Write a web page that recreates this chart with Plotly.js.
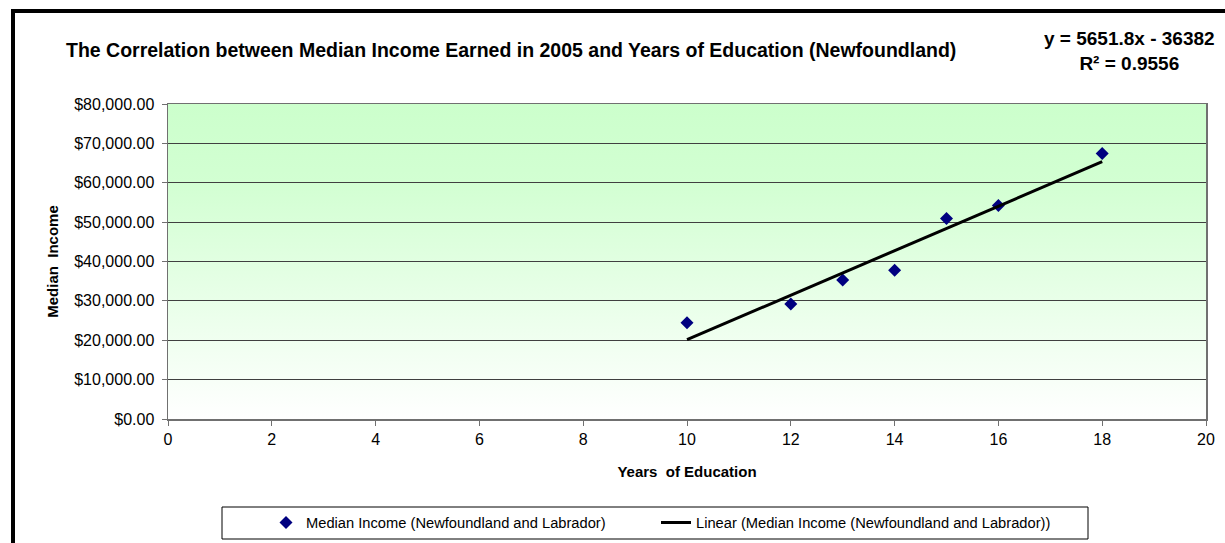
<!DOCTYPE html>
<html><head><meta charset="utf-8">
<script src="https://cdn.plot.ly/plotly-3.0.1.min.js"></script>
<style>html,body{margin:0;padding:0;background:#fff;overflow:hidden}#chart{width:1225px;height:543px}</style>
</head><body><div id="chart"></div>
<script>
// ---- data ----
const years = [10, 12, 13, 14, 15, 16, 18];
const medianIncome = [24450, 29200, 35300, 37800, 50900, 54200, 67400];
const trendSlope = 5651.8;
const trendIntercept = -36382;
const rSquared = 0.9556;
const trendYears = [10, 18];
const seriesName = 'Median Income (Newfoundland and Labrador)';
const trendName = 'Linear (Median Income (Newfoundland and Labrador))';
const chartTitle = 'The Correlation between Median Income Earned in 2005 and Years of Education (Newfoundland)';
const equationText = 'y = 5651.8x - 36382';
const xTitle = 'Years\u00a0 of Education';
const yTitle = 'Median\u00a0 Income';

// ---- layout helpers (pixel -> paper / container) ----
const W = 1225, H = 543, ML = 168, MR = 19, MT = 104, MB = 124;
const PW = W - ML - MR, PH = H - MT - MB;
const fx = p => (p - ML) / PW;
const fy = p => (H - MB - p) / PH;
const cx = p => p / W;
const cy = p => 1 - p / H;
const FONT = 'Liberation Sans, Arial, sans-serif';

const trendValues = trendYears.map(x => trendSlope * x + trendIntercept);

const gradSvg = "<svg xmlns='http://www.w3.org/2000/svg' width='100' height='100' preserveAspectRatio='none'>" +
  "<defs><linearGradient id='g' x1='0' y1='0' x2='0' y2='1'>" +
  "<stop offset='0' stop-color='#ccffcc'/><stop offset='0.25' stop-color='#d2ffd2'/><stop offset='1' stop-color='#ffffff'/></linearGradient></defs>" +
  "<rect width='100' height='100' fill='url(#g)'/></svg>";

const traces = [
  {
    type: 'scatter', mode: 'markers', name: seriesName,
    x: years, y: medianIncome,
    marker: {symbol: 'diamond', size: 10, color: '#000080'},
    cliponaxis: false, legend: 'legend'
  },
  {
    type: 'scatter', mode: 'lines', name: trendName,
    x: trendYears, y: trendValues,
    line: {color: '#000000', width: 3}, legend: 'legend2'
  }
];

const legendCommon = {
  orientation: 'h', xanchor: 'left', yanchor: 'middle',
  xref: 'container', yref: 'container',
  bgcolor: 'rgba(0,0,0,0)', borderwidth: 0,
  font: {family: FONT, size: 14.7, color: '#000000'}
};

const layout = {
  width: W, height: H,
  margin: {l: ML, r: MR, t: MT, b: MB, pad: 0, autoexpand: false},
  paper_bgcolor: '#ffffff',
  plot_bgcolor: 'rgba(0,0,0,0)',
  font: {family: FONT, color: '#000000', size: 16},
  showlegend: true,
  title: {
    text: chartTitle,
    font: {family: FONT, size: 19.5, weight: 'bold', color: '#000000'},
    xref: 'container', x: cx(66), xanchor: 'left',
    yref: 'container', y: cy(50), yanchor: 'middle'
  },
  xaxis: {
    range: [0, 20], dtick: 2, tick0: 0,
    showgrid: false, zeroline: false,
    showline: true, linecolor: '#707070', linewidth: 1.5, mirror: true,
    ticks: 'outside', ticklen: 5, tickcolor: '#707070', tickwidth: 1,
    tickfont: {family: FONT, size: 16, color: '#000000'},
    title: {text: xTitle, standoff: 20, font: {family: FONT, size: 15, weight: 'bold', color: '#000000'}},
    fixedrange: true
  },
  yaxis: {
    range: [0, 80000], dtick: 10000, tick0: 0,
    tickformat: '$,.2f',
    showgrid: true, gridcolor: '#404040', gridwidth: 1,
    zeroline: false,
    showline: true, linecolor: '#707070', linewidth: 1.5, mirror: true,
    ticks: 'outside', ticklen: 5, tickcolor: '#707070', tickwidth: 1,
    ticklabelstandoff: 4,
    tickfont: {family: FONT, size: 16, color: '#000000'},
    title: {text: yTitle, standoff: 12, font: {family: FONT, size: 15, weight: 'bold', color: '#000000'}},
    fixedrange: true
  },
  legend: Object.assign({}, legendCommon, {x: cx(266), y: cy(523)}),
  legend2: Object.assign({}, legendCommon, {x: cx(656), y: cy(523)}),
  images: [{
    source: 'data:image/svg+xml;charset=utf-8,' + encodeURIComponent(gradSvg),
    xref: 'paper', yref: 'paper', x: 0, y: 1, sizex: 1, sizey: 1,
    xanchor: 'left', yanchor: 'top', sizing: 'stretch', layer: 'below'
  }],
  shapes: [
    // legend frame
    {type: 'rect', xref: 'paper', yref: 'paper', x0: fx(222), x1: fx(1088), y0: fy(539), y1: fy(507),
     line: {color: '#000000', width: 1}, fillcolor: '#ffffff', layer: 'below'},
    // outer chart border (left and top, thick black)
    {type: 'line', xref: 'paper', yref: 'paper', x0: fx(13), x1: fx(13), y0: fy(600), y1: fy(9),
     line: {color: '#000000', width: 4}},
    {type: 'line', xref: 'paper', yref: 'paper', x0: fx(11), x1: fx(1300), y0: fy(11), y1: fy(11),
     line: {color: '#000000', width: 4}}
  ],
  annotations: [
    {text: equationText + '<br>R² = ' + rSquared.toFixed(4), xref: 'paper', yref: 'paper',
     x: fx(1129), y: fy(51), xanchor: 'center', yanchor: 'middle', align: 'center', showarrow: false,
     font: {family: FONT, size: 19, weight: 'bold', color: '#000000'}}
  ]
};

Plotly.newPlot('chart', traces, layout, {displayModeBar: false, staticPlot: true});
</script>
</body></html>
